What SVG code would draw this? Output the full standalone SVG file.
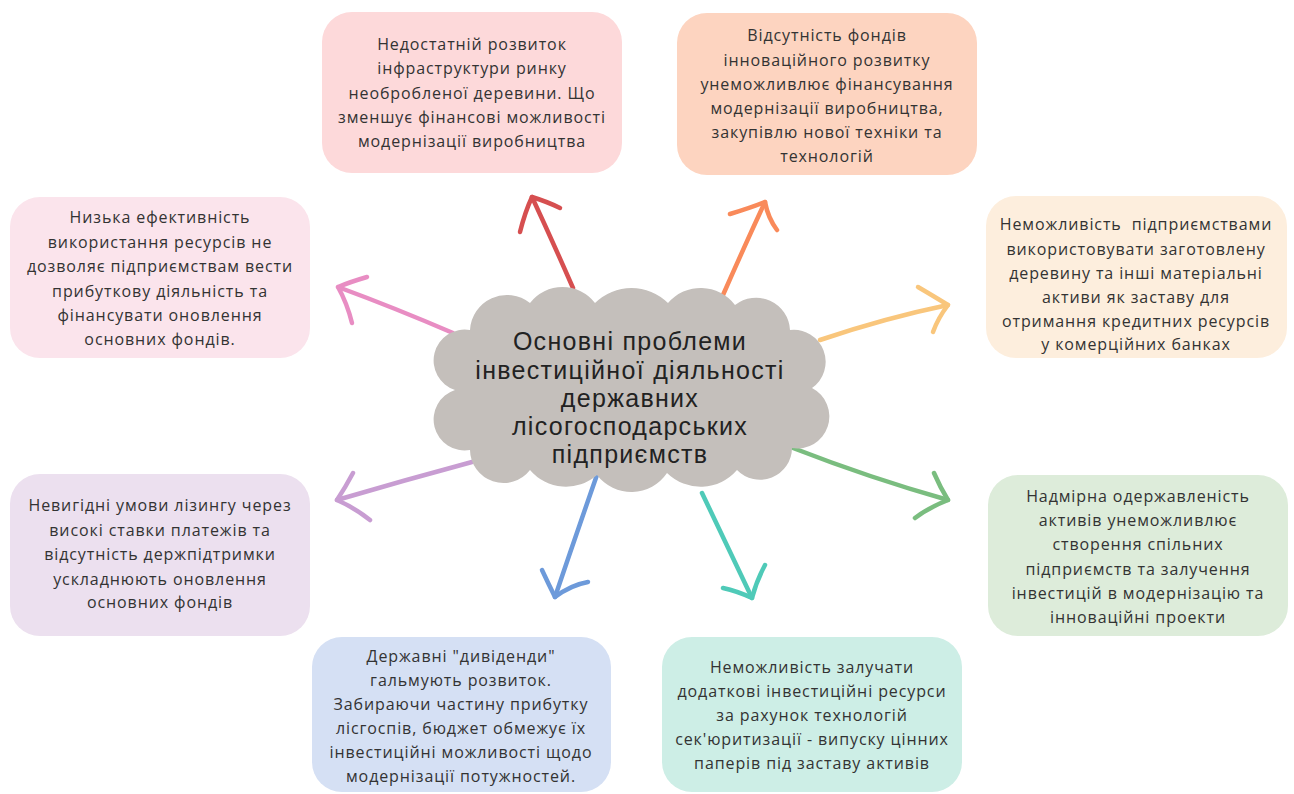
<svg xmlns="http://www.w3.org/2000/svg" width="1294" height="794" viewBox="0 0 1294 794">
<style>
.box text{font-family:"Open Sans","Noto Sans","Liberation Sans",sans-serif;font-size:16px;letter-spacing:0.9px;fill:#333;text-anchor:middle}
.title{font-family:"Liberation Sans",Arial,sans-serif;font-size:25px;letter-spacing:1.3px;fill:#222;text-anchor:middle}
.ar{fill:none;stroke-width:4.5;stroke-linecap:round;stroke-linejoin:round}
</style>
<rect width="1294" height="794" fill="#ffffff"/>
<g id="connectors">
<g stroke="#d64f50" class="ar"><path class="ar" d="M573 288 Q552 240 532 197"/><path class="ar" d="M520 232 Q525 212 532 197 Q548 202 560 208"/></g>
<g stroke="#e88dc3" class="ar"><path class="ar" d="M453 333 Q395 308 338 287"/><path class="ar" d="M367 277 Q350 282 338 287 Q347 303 352 323"/></g>
<g stroke="#f98a5a" class="ar"><path class="ar" d="M723 295 Q745 245 765 202"/><path class="ar" d="M730 214 Q750 208 765 202 Q768 218 777 230"/></g>
<g stroke="#f9c67c" class="ar"><path class="ar" d="M820 340 Q885 318 948 305"/><path class="ar" d="M918 287 Q935 297 948 305 Q938 318 933 332"/></g>
<g stroke="#7abd7f" class="ar"><path class="ar" d="M793 448 Q870 478 948 500"/><path class="ar" d="M934 473 Q940 487 948 500 Q928 508 915 518"/></g>
<g stroke="#4fcab8" class="ar"><path class="ar" d="M702 493 Q728 548 752 598"/><path class="ar" d="M765 565 Q756 582 752 598 Q737 591 723 588"/></g>
<g stroke="#6d9ada" class="ar"><path class="ar" d="M598 472 Q576 535 555 597"/><path class="ar" d="M542 570 Q549 585 555 597 Q571 585 588 582"/></g>
<g stroke="#c89dd2" class="ar"><path class="ar" d="M472 462 Q405 480 337 500"/><path class="ar" d="M353 473 Q345 488 337 500 Q355 508 370 520"/></g>
</g>
<g id="center">
<path fill="#c4bfbb" d="M470 330 A37 37 0 0 1 530 303 A41 41 0 0 1 595 303 A52 52 0 0 1 668 303 A43 43 0 0 1 735 305 A34 34 0 0 1 790 330 A32 32 0 0 1 812 388 A32 32 0 0 1 792 448 A32 32 0 0 1 737 470 A48 48 0 0 1 667 473 A43 43 0 0 1 597 475 A47 47 0 0 1 530 470 A33.5 33.5 0 0 1 470 450 A31 31 0 0 1 455 390 A31 31 0 0 1 470 330 Z"/>
<text class="title" x="630" y="350"><tspan x="630" y="350">Основні проблеми</tspan><tspan x="630" y="378.5">інвестиційної діяльності</tspan><tspan x="630" y="407">державних</tspan><tspan x="630" y="435">лісогосподарських</tspan><tspan x="630" y="462.5">підприємств</tspan></text>
</g>
<g id="n1" class="box">
<rect x="322" y="12" width="300" height="161" rx="30" fill="#fdd9da"/>
<text><tspan x="472" y="49.5">Недостатній розвиток</tspan><tspan x="472" y="74">інфраструктури ринку</tspan><tspan x="472" y="98.5">необробленої деревини. Що</tspan><tspan x="472" y="122.5">зменшує фінансові можливості</tspan><tspan x="472" y="146.5">модернізації виробництва</tspan></text>
</g>
<g id="n2" class="box">
<rect x="677" y="13" width="300" height="162" rx="30" fill="#fdd4c0"/>
<text><tspan x="827" y="41">Відсутність фондів</tspan><tspan x="827" y="65.5">інноваційного розвитку</tspan><tspan x="827" y="89.5">унеможливлює фінансування</tspan><tspan x="827" y="114">модернізації виробництва,</tspan><tspan x="827" y="138">закупівлю нової техніки та</tspan><tspan x="827" y="162">технологій</tspan></text>
</g>
<g id="n3" class="box">
<rect x="10" y="197" width="300" height="161" rx="30" fill="#fbe4ec"/>
<text><tspan x="160" y="223">Низька ефективність</tspan><tspan x="160" y="248">використання ресурсів не</tspan><tspan x="160" y="272">дозволяє підприємствам вести</tspan><tspan x="160" y="297">прибуткову діяльність та</tspan><tspan x="160" y="321">фінансувати оновлення</tspan><tspan x="160" y="345">основних фондів.</tspan></text>
</g>
<g id="n4" class="box">
<rect x="986" y="196" width="301" height="162" rx="30" fill="#fdeedd"/>
<text xml:space="preserve"><tspan x="1136" y="230">Неможливість  підприємствами</tspan><tspan x="1136" y="254.5">використовувати заготовлену</tspan><tspan x="1136" y="278.5">деревину та інші матеріальні</tspan><tspan x="1136" y="302.5">активи як заставу для</tspan><tspan x="1136" y="326.5">отримання кредитних ресурсів</tspan><tspan x="1136" y="350">у комерційних банках</tspan></text>
</g>
<g id="n5" class="box">
<rect x="10" y="474" width="300" height="162" rx="30" fill="#ece0ef"/>
<text><tspan x="160" y="511">Невигідні умови лізингу через</tspan><tspan x="160" y="535.5">високі ставки платежів та</tspan><tspan x="160" y="560">відсутність держпідтримки</tspan><tspan x="160" y="584.5">ускладнюють оновлення</tspan><tspan x="160" y="608">основних фондів</tspan></text>
</g>
<g id="n6" class="box">
<rect x="988" y="475" width="300" height="161" rx="30" fill="#ddecda"/>
<text><tspan x="1138" y="501.5">Надмірна одержавленість</tspan><tspan x="1138" y="526">активів унеможливлює</tspan><tspan x="1138" y="550">створення спільних</tspan><tspan x="1138" y="574.5">підприємств та залучення</tspan><tspan x="1138" y="599">інвестицій в модернізацію та</tspan><tspan x="1138" y="623">інноваційні проекти</tspan></text>
</g>
<g id="n7" class="box">
<rect x="312" y="637" width="299" height="155" rx="30" fill="#d5e0f4"/>
<text><tspan x="461" y="662">Державні "дивіденди"</tspan><tspan x="461" y="685.5">гальмують розвиток.</tspan><tspan x="461" y="709.5">Забираючи частину прибутку</tspan><tspan x="461" y="733.5">лісгоспів, бюджет обмежує їх</tspan><tspan x="461" y="758">інвестиційні можливості щодо</tspan><tspan x="461" y="782">модернізації потужностей.</tspan></text>
</g>
<g id="n8" class="box">
<rect x="662" y="637" width="300" height="155" rx="30" fill="#cdeee6"/>
<text><tspan x="812" y="673">Неможливість залучати</tspan><tspan x="812" y="697">додаткові інвестиційні ресурси</tspan><tspan x="812" y="721">за рахунок технологій</tspan><tspan x="812" y="745">сек'юритизації - випуску цінних</tspan><tspan x="812" y="769">паперів під заставу активів</tspan></text>
</g>
</svg>
